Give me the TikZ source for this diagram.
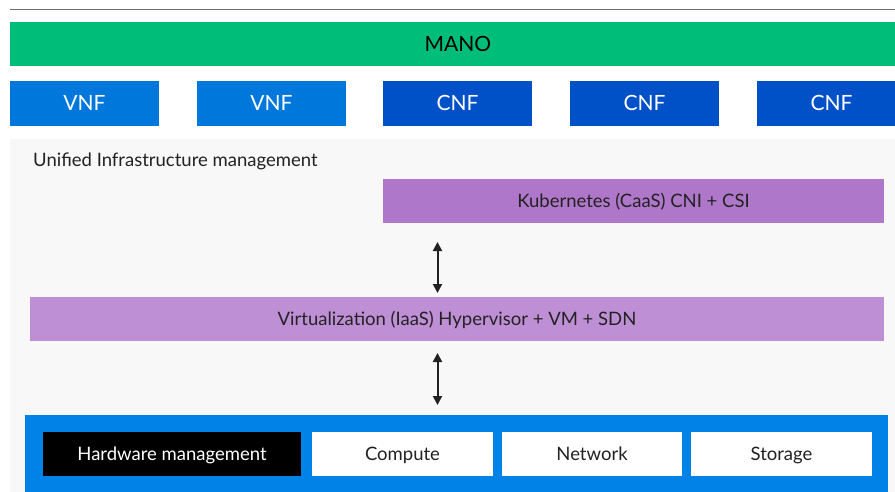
\documentclass[tikz,border=0pt]{standalone}
\usepackage{fontspec}
\setmainfont{Lato}
\usetikzlibrary{arrows.meta}
\definecolor{manogreen}{HTML}{00BE79}
\definecolor{vnfblue}{HTML}{0077DB}
\definecolor{cnfblue}{HTML}{0050C8}
\definecolor{panelgray}{HTML}{F8F8F8}
\definecolor{kubepurple}{HTML}{AF77CA}
\definecolor{virtpurple}{HTML}{BF8FD5}
\definecolor{hwblue}{HTML}{0082E6}
\definecolor{darktext}{HTML}{222222}
\definecolor{rulegray}{HTML}{6E6E6E}
\begin{document}
\begin{tikzpicture}[x=1pt,y=-1pt,
  block/.style={rectangle,inner sep=0pt,outer sep=0pt,anchor=north west,text depth=0pt},
  bigfont/.style={font=\fontsize{21}{25}\selectfont,text height=15pt},
  smallfont/.style={font=\fontsize{18.5}{22}\selectfont,text height=13.2pt},
  fnbox/.style={block,bigfont,minimum width=149pt,minimum height=45pt,text=white},
  layer/.style={block,smallfont,minimum height=44pt,text=darktext},
  resbox/.style={block,smallfont,minimum height=44pt,fill=white,text=darktext},
  link/.style={line width=2pt,draw=darktext,{Triangle[length=9pt,width=9pt]}-{Triangle[length=9pt,width=9pt]}}]
\clip (0,0) rectangle (895,492);
\fill[white] (0,0) rectangle (895,492);
% top rule
\draw[rulegray,line width=1.5pt] (10,9.5) -- (906,9.5);
% orchestration bar
\node[block,bigfont,fill=manogreen,minimum width=896pt,minimum height=44pt,text=black] (mano) at (10,22) {MANO};
% network functions
\node[fnbox,fill=vnfblue] (vnf1) at (10,81) {VNF};
\node[fnbox,fill=vnfblue] (vnf2) at (197,81) {VNF};
\node[fnbox,fill=cnfblue] (cnf1) at (383,81) {CNF};
\node[fnbox,fill=cnfblue] (cnf2) at (570,81) {CNF};
\node[fnbox,fill=cnfblue] (cnf3) at (757,81) {CNF};
% infrastructure management panel
\node[block,fill=panelgray,minimum width=896pt,minimum height=360pt] (panel) at (10,139) {};
\node[anchor=base west,inner sep=0pt,text=darktext,smallfont] (uim) at (33,167) {Unified Infrastructure management};
% software layers
\node[layer,fill=kubepurple,minimum width=501pt] (kube) at (383,179) {Kubernetes (CaaS) CNI + CSI};
\node[layer,fill=virtpurple,minimum width=854pt] (virt) at (30,297) {Virtualization (IaaS) Hypervisor + VM + SDN};
% hardware layer
\node[block,fill=hwblue,minimum width=863pt,minimum height=90pt] (hw) at (25,415) {};
\node[resbox,fill=black,text=white,minimum width=258pt] (hwm) at (43,432) {Hardware management};
\node[resbox,minimum width=181pt] (compute) at (312,432) {Compute};
\node[resbox,minimum width=180pt] (network) at (502,432) {Network};
\node[resbox,minimum width=181pt] (storage) at (691,432) {Storage};
% links between layers
\coordinate (k1) at (437.5,242);
\coordinate (v1) at (437.5,293);
\coordinate (v2) at (437.5,353);
\coordinate (h1) at (437.5,405);
\draw[link] (k1) -- (v1);
\draw[link] (v2) -- (h1);
\end{tikzpicture}
\end{document}
